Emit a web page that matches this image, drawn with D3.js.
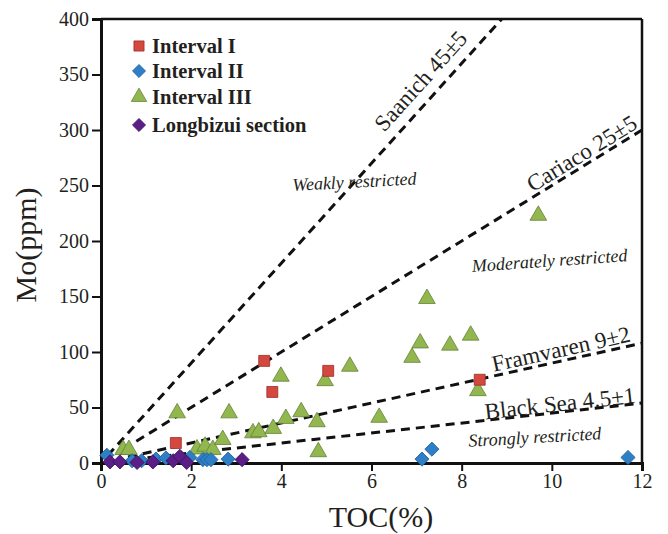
<!DOCTYPE html>
<html>
<head>
<meta charset="utf-8">
<script src="https://cdn.jsdelivr.net/npm/d3@7"></script>
<style>
  body { margin: 0; background: #fff; }
  svg { display: block; }
  text { font-family: "Liberation Serif", "Times New Roman", serif; fill: #231f20; }
</style>
</head>
<body>
<div class="container"></div>
<script>
'use strict';

// Data: [TOC %, Mo ppm]
const interval1 = [[1.66, 18], [3.62, 92], [3.8, 64], [5.04, 83], [8.4, 75]];
const interval2 = [[0.13, 7], [0.69, 2], [0.9, 2], [1.22, 3.5], [1.44, 4.5], [1.97, 5],
  [2.26, 3], [2.35, 3], [2.44, 3], [2.82, 3.5], [7.12, 3.5], [7.34, 12.5], [11.69, 5]];
const interval3 = [[0.49, 12], [0.62, 12], [1.69, 45], [2.13, 12.5], [2.31, 15], [2.48, 12],
  [2.7, 21], [2.84, 45], [3.37, 27], [3.5, 28], [3.82, 31], [3.99, 78], [4.1, 40],
  [4.44, 46], [4.79, 37], [4.82, 10], [4.97, 74], [5.52, 87], [6.17, 41], [6.9, 95],
  [7.08, 108], [7.23, 148], [7.74, 106], [8.2, 115], [8.36, 65], [9.7, 223]];
const longbizui = [[0.2, 1], [0.42, 1], [0.8, 0.5], [1.15, 1], [1.6, 2], [1.75, 6],
  [1.9, 0.5], [3.13, 3]];

// Reference Mo/TOC trends
const trendNames = ["Saanich 45\u00b15", "Cariaco 25\u00b15", "Framvaren 9\u00b12", "Black Sea 4.5\u00b11"];
const trendSlopes = [45, 25, 9, 4.5];
const trendStarts = [0.15, 0.5, 0.6, 0.7];
const trendLabelAt = [7.4, 10.8, 10.26, 10.2];
const trendLabelLift = [-11, -4, -4, -1];

const zoneNames = ["Weakly restricted", "Moderately restricted", "Strongly restricted"];
const zoneAt = [[5.63, 248], [9.96, 177], [9.63, 18]];
const zoneTilt = [-3, -4, -3.3];

const xTicks = [0, 2, 4, 6, 8, 10, 12];
const yTicks = [0, 50, 100, 150, 200, 250, 300, 350, 400];

const width = 668;
const height = 534;
const margin = {top: 19, right: 26, bottom: 71, left: 101};

const svg = d3.select("div.container").append("svg")
    .attr("width", width)
    .attr("height", height);

const x = d3.scaleLinear().domain([0, 12]).range([margin.left, width - margin.right]);
const y = d3.scaleLinear().domain([0, 400]).range([height - margin.bottom, margin.top]);

// clip so lines stop at the frame
svg.append("clipPath").attr("id", "plot")
  .append("rect")
    .attr("x", x(0)).attr("y", y(400))
    .attr("width", x(12) - x(0)).attr("height", y(0) - y(400));

// dashed trend lines
const lines = svg.append("g").attr("clip-path", "url(#plot)");
trendSlopes.forEach(function (s, i) {
  const x0 = trendStarts[i];
  const x1 = Math.min(12, 400 / s);
  lines.append("line")
    .attr("x1", x(x0)).attr("y1", y(s * x0))
    .attr("x2", x(x1)).attr("y2", y(s * x1))
    .attr("stroke", "#111")
    .attr("stroke-width", 3)
    .attr("stroke-dasharray", "9,6");
});

// line labels, rotated along their line
trendSlopes.forEach(function (s, i) {
  const t = trendLabelAt[i];
  const dx = x(1) - x(0), dy = y(0) - y(s);
  const ang = -Math.atan2(dy, dx) * 180 / Math.PI;
  svg.append("text")
    .attr("transform", "translate(" + x(t) + "," + y(s * t) + ") rotate(" + ang + ")")
    .attr("text-anchor", "middle")
    .attr("dy", trendLabelLift[i])
    .style("font-size", "23px")
    .text(trendNames[i]);
});

zoneNames.forEach(function (n, i) {
  svg.append("text")
    .attr("transform", "translate(" + x(zoneAt[i][0]) + "," + y(zoneAt[i][1]) + ") rotate(" + zoneTilt[i] + ")")
    .attr("text-anchor", "middle")
    .style("font-size", "18px")
    .style("font-style", "italic")
    .text(n);
});

// axes
const xAxis = svg.append("g")
    .attr("transform", "translate(0," + y(0) + ")")
    .call(d3.axisBottom(x).tickValues(xTicks).tickSize(8).tickPadding(3).tickFormat(d3.format("d")));
const yAxis = svg.append("g")
    .attr("transform", "translate(" + x(0) + ",0)")
    .call(d3.axisLeft(y).tickValues(yTicks).tickSize(9).tickPadding(3).tickFormat(d3.format("d")));

[xAxis, yAxis].forEach(function (g) {
  g.select(".domain").attr("stroke", "#111").attr("stroke-width", 3);
  g.selectAll(".tick line").attr("stroke", "#111").attr("stroke-width", 2);
  g.selectAll(".tick text")
    .style("font-family", "'Liberation Serif', serif")
    .style("font-size", "20px")
    .attr("fill", "#231f20");
});

// top and right frame
svg.append("line")
  .attr("x1", x(0)).attr("y1", y(400)).attr("x2", x(12)).attr("y2", y(400))
  .attr("stroke", "#111").attr("stroke-width", 2.5);
svg.append("line")
  .attr("x1", x(12)).attr("y1", y(400)).attr("x2", x(12)).attr("y2", y(0))
  .attr("stroke", "#111").attr("stroke-width", 2.5);

svg.append("text")
  .attr("x", 381)
  .attr("y", 527)
  .attr("text-anchor", "middle")
  .style("font-size", "30px")
  .text("TOC(%)");

svg.append("text")
  .attr("transform", "translate(36,245) rotate(-90)")
  .attr("text-anchor", "middle")
  .style("font-size", "30px")
  .text("Mo(ppm)");

// series
const series = [
  {name: "Interval I", data: interval1, type: d3.symbolSquare, size: 120, rot: 0, fill: "#d4483f", stroke: "#9a2d27"},
  {name: "Interval II", data: interval2, type: d3.symbolSquare, size: 100, rot: 45, fill: "#2f7fc6", stroke: "#1d5e98"},
  {name: "Interval III", data: interval3, type: d3.symbolTriangle, size: 120, rot: 0, fill: "#93b74f", stroke: "#62813a"},
  {name: "Longbizui section", data: longbizui, type: d3.symbolSquare, size: 100, rot: 45, fill: "#5b1d86", stroke: "#3c0f5c"}
];
const drawOrder = [2, 0, 1, 3];

drawOrder.forEach(function (k) {
  const s = series[k];
  svg.append("g").selectAll("path")
    .data(s.data)
    .enter()
    .append("path")
      .attr("d", d3.symbol().type(s.type).size(s.size))
      .attr("transform", d => "translate(" + x(d[0]) + "," + y(d[1]) + ") rotate(" + s.rot + ")")
      .attr("fill", s.fill)
      .attr("stroke", s.stroke)
      .attr("stroke-width", 0.8);
});

// legend
const legend = svg.append("g").attr("transform", "translate(139,46)");
const rowY = [0, 25, 51, 79];
series.forEach(function (s, i) {
  legend.append("path")
    .attr("d", d3.symbol().type(s.type).size(s.size * 0.85))
    .attr("transform", "translate(0," + rowY[i] + ") rotate(" + s.rot + ")")
    .attr("fill", s.fill)
    .attr("stroke", s.stroke)
    .attr("stroke-width", 0.8);
  legend.append("text")
    .attr("x", 13)
    .attr("y", rowY[i] + 7)
    .style("font-size", "20.5px")
    .style("font-weight", "bold")
    .text(s.name);
});
</script>
</body>
</html>
